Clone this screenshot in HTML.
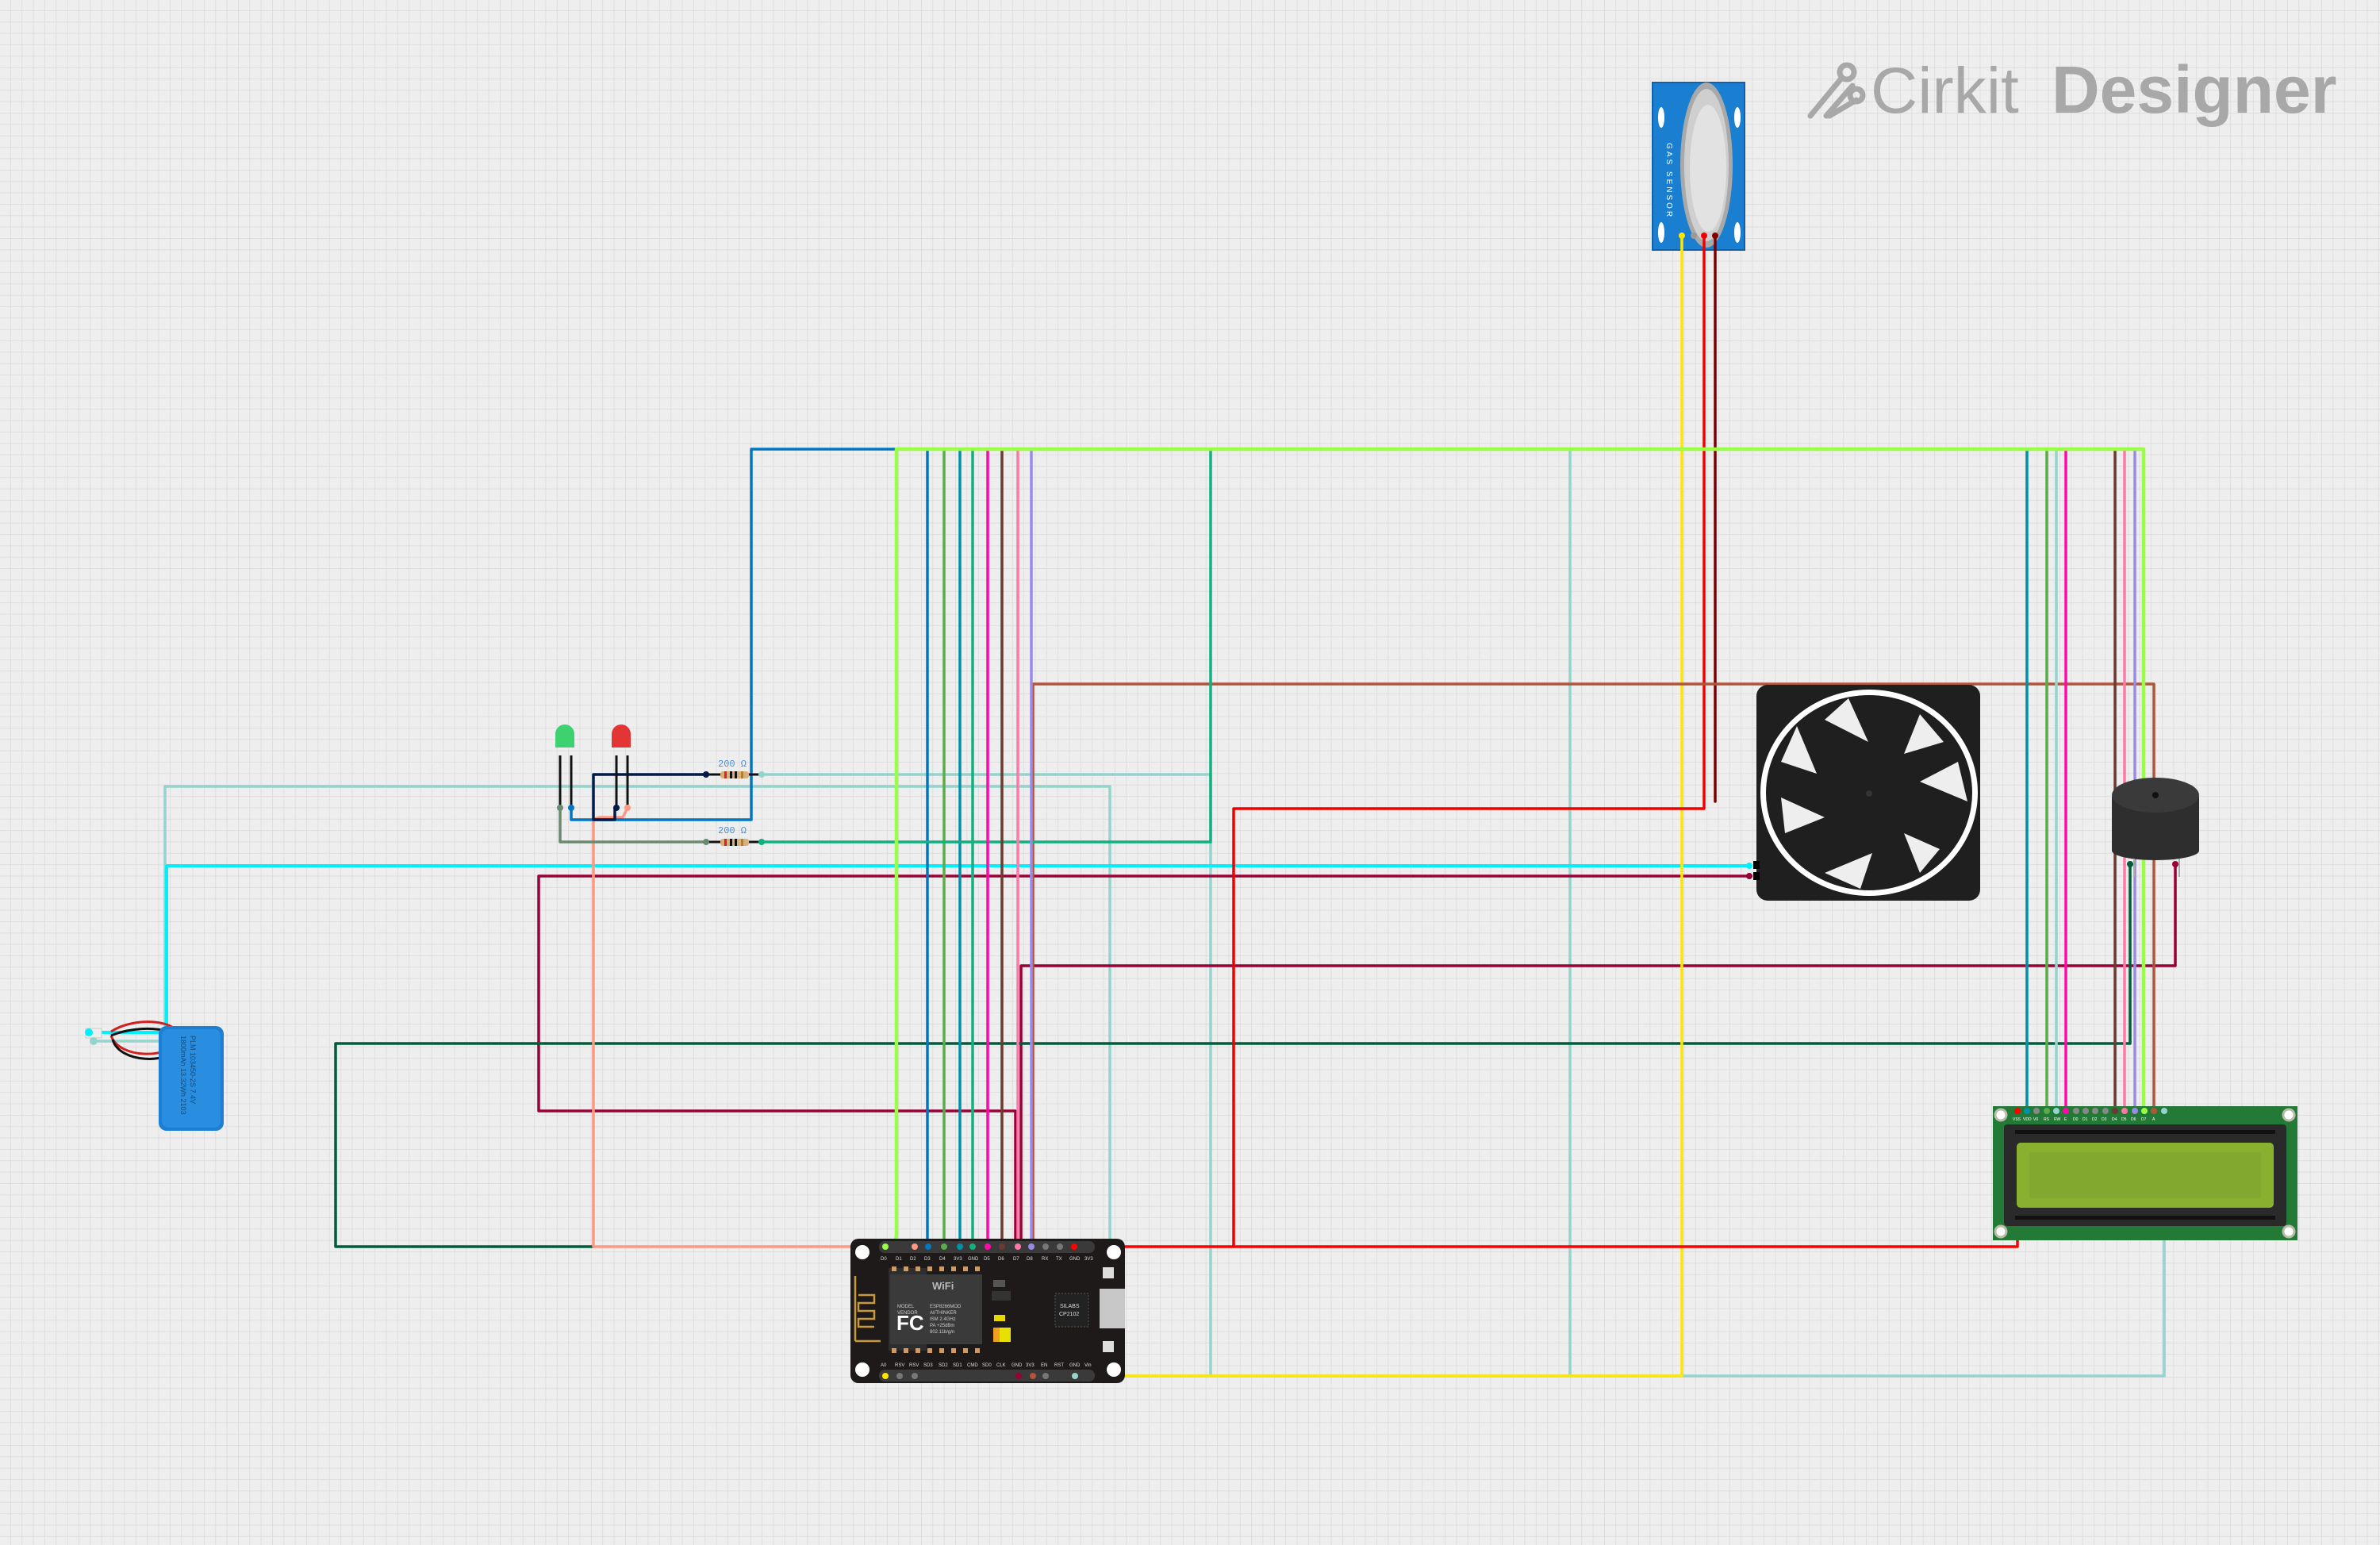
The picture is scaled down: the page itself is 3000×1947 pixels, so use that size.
<!DOCTYPE html>
<html><head><meta charset="utf-8"><style>
html,body{margin:0;padding:0;background:#eeeeee;}
svg{display:block;}
</style></head><body>
<svg width="3000" height="1947" viewBox="0 0 3000 1947" xmlns="http://www.w3.org/2000/svg" font-family="Liberation Sans, sans-serif">
<defs>
<pattern id="g" x="13" y="13" width="14.35" height="14.35" patternUnits="userSpaceOnUse">
<path d="M0 0V14.35M0 0H14.35" stroke="#dadada" stroke-width="1.6" fill="none"/>
</pattern>
</defs>
<rect width="3000" height="1947" fill="#eeeeee"/>
<rect width="3000" height="1947" fill="url(#g)"/>

<!-- Logo -->
<g fill="none" stroke="#a8a8a8" stroke-width="7" stroke-linecap="round">
<path d="M2282 146 L2320 100"/><circle cx="2328" cy="91" r="9"/>
<path d="M2302 146 L2335 108"/><path d="M2306 146 L2340 126"/>
<circle cx="2340" cy="120" r="8"/>
</g>
<text x="2358" y="142" font-size="82" fill="#a8a8a8">Cirkit</text>
<text x="2586" y="142" font-size="84" font-weight="bold" fill="#a8a8a8">Designer</text>

<!-- Gas sensor -->
<rect x="2083" y="104" width="116" height="211" fill="#1a7fd0"/>
<rect x="2083" y="104" width="116" height="211" fill="none" stroke="#0e62ad" stroke-width="2"/>
<ellipse cx="2094" cy="148" rx="4" ry="13" fill="#fff"/><ellipse cx="2190" cy="148" rx="4" ry="13" fill="#fff"/>
<ellipse cx="2094" cy="293" rx="4" ry="13" fill="#fff"/><ellipse cx="2190" cy="293" rx="4" ry="13" fill="#fff"/>
<ellipse cx="2151" cy="208" rx="33" ry="104" fill="#a9a9a9"/>
<ellipse cx="2151" cy="208" rx="28" ry="96" fill="#cfcfcf"/>
<ellipse cx="2153" cy="212" rx="23" ry="80" fill="#e2e2e2"/>
<text transform="translate(2101,180) rotate(90)" font-size="10" fill="#fff" letter-spacing="3">GAS SENSOR</text>
<circle cx="2120" cy="297" r="4" fill="#ffe600"/><circle cx="2135" cy="297" r="4" fill="#999"/>
<circle cx="2148" cy="297" r="4" fill="#f00"/><circle cx="2162" cy="297" r="4" fill="#800"/>

<!-- Wires -->
<g fill="none" stroke-width="3.5" stroke-linejoin="round" stroke-linecap="round">
<path d="M1355 1734 H2728 V1400" stroke="#94d4cc"/>
<path d="M1979 566 V1734" stroke="#94d4cc"/>
<path d="M960 976 H1526 V1734" stroke="#94d4cc"/>
<path d="M118 1312 H208 V991 H1399 V1734" stroke="#94d4cc"/>
<path d="M112 1301 H210 V1091 H2205" stroke="#00f0ff" stroke-width="4"/>
<path d="M2205 1104 H679 V1400 H1280 V1734" stroke="#990038"/>
<path d="M2742 1089 V1217 H1287 V1734" stroke="#990038"/>
<path d="M2685 1089 V1315 H423 V1571 H748" stroke="#005c3a"/>
<path d="M1153 1571 H748 V1035 Q748 1030 760 1030 L785 1030 L791 1018" stroke="#ff9880"/>
<path d="M2120 297 V1734 H1116" stroke="#ffe600"/>
<path d="M1354 1571 H2543 V1400" stroke="#ff0000"/>
<path d="M2148 297 V1019 H1555 V1571" stroke="#ee0000"/>
<path d="M2162 297 V1010" stroke="#7a0000"/>
<path d="M1302 1734 V862 H2715 V1400" stroke="#b0553a"/>
<path d="M720 1018 V1033 H947 V566 H1169 V1571" stroke="#0077c0"/>
<path d="M1190 1571 V566 H2580 V1400" stroke="#5aac4a"/>
<path d="M1210 1571 V566 H2555 V1400" stroke="#0090a8"/>
<path d="M1226 1571 V566 H1526 V1061 H960" stroke="#10b080"/>
<path d="M1245 1571 V566 H2604 V1400" stroke="#ff0aa8"/>
<path d="M1263 1571 V566 H2666 V1400" stroke="#6b3a30"/>
<path d="M1283 1571 V566 H2678 V1400" stroke="#ff78a8"/>
<path d="M1300 1571 V566 H2691 V1400" stroke="#9a8ae8"/>
<path d="M2592 566 V1400" stroke="#94d4cc"/>
<path d="M1116 1571 Q1130 1571 1130 1555 V566 H2702 V1400" stroke="#99ff44" stroke-width="4.5"/>
<path d="M890 976 H748 V1033 H775 V1018" stroke="#001a4a"/>
<path d="M706 1018 V1061 H890" stroke="#6a8a70"/>
</g>

<!-- Resistors -->
<g>
<line x1="890" y1="976" x2="960" y2="976" stroke="#111" stroke-width="3"/>
<rect x="908" y="972" width="36" height="9" rx="3" fill="#d8b080"/>
<rect x="913" y="972" width="3" height="9" fill="#e02020"/><rect x="920" y="972" width="3" height="9" fill="#111"/><rect x="926" y="972" width="3" height="9" fill="#111"/><rect x="934" y="972" width="3" height="9" fill="#b08030"/>
<line x1="890" y1="1061" x2="960" y2="1061" stroke="#111" stroke-width="3"/>
<rect x="908" y="1057" width="36" height="9" rx="3" fill="#d8b080"/>
<rect x="913" y="1057" width="3" height="9" fill="#e02020"/><rect x="920" y="1057" width="3" height="9" fill="#111"/><rect x="926" y="1057" width="3" height="9" fill="#111"/><rect x="934" y="1057" width="3" height="9" fill="#b08030"/>
<text x="905" y="966" font-size="12" fill="#4a90d9" font-family="Liberation Mono, monospace">200 Ω</text>
<text x="905" y="1050" font-size="12" fill="#4a90d9" font-family="Liberation Mono, monospace">200 Ω</text>
<circle cx="890" cy="976" r="4" fill="#001a4a"/><circle cx="960" cy="976" r="4" fill="#94d4cc"/>
<circle cx="890" cy="1061" r="4" fill="#6a8a70"/><circle cx="960" cy="1061" r="4" fill="#10b080"/>
</g>

<!-- LEDs -->
<g>
<path d="M706 952 V1018 M720 952 L720 965 L720 1018" stroke="#111" stroke-width="3"/>
<path d="M700 942 V925 a12 12 0 0 1 24 0 V942 Z" fill="#3ed170"/>
<path d="M777 952 V1018 M791 952 V1018" stroke="#111" stroke-width="3"/>
<path d="M771 942 V925 a12 12 0 0 1 24 0 V942 Z" fill="#e43535"/>
<circle cx="706" cy="1018" r="4" fill="#6a8a70"/><circle cx="720" cy="1018" r="4" fill="#0077c0"/>
<circle cx="777" cy="1018" r="4" fill="#001a4a"/><circle cx="791" cy="1018" r="4" fill="#ff9880"/>
</g>

<!-- Battery -->
<g>
<path d="M140 1300 C170 1280 230 1285 225 1310 C215 1335 150 1335 140 1305" fill="none" stroke="#d02020" stroke-width="3"/>
<path d="M140 1305 C175 1290 235 1295 226 1318 C215 1342 150 1340 142 1310" fill="none" stroke="#111" stroke-width="3"/>
<rect x="108" y="1296" width="20" height="12" fill="#eee" stroke="#ccc"/>
<rect x="200" y="1293" width="82" height="132" rx="10" fill="#1d7fd4"/>
<rect x="204" y="1297" width="74" height="124" rx="8" fill="#2a8ee0"/>
<text transform="translate(240,1305) rotate(90)" font-size="9" fill="#124b7a">PLM 103450-2S 7.4V</text>
<text transform="translate(228,1305) rotate(90)" font-size="9" fill="#124b7a">1800mAh 13.32Wh 2103</text>
<circle cx="112" cy="1301" r="5" fill="#00f0ff"/><circle cx="118" cy="1312" r="5" fill="#94d4cc"/>
</g>

<!-- Fan -->
<g>
<rect x="2214" y="863" width="282" height="272" rx="14" fill="#1f1f1f"/>
<ellipse cx="2356" cy="999" rx="137" ry="130" fill="#ffffff"/>
<ellipse cx="2356" cy="999" rx="130" ry="123" fill="#1f1f1f"/>
<g fill="#eeeeee">
<path d="M2300 907 L2355 935 L2330 880 Z"/>
<path d="M2420 900 L2400 950 L2450 935 Z"/>
<path d="M2468 960 L2420 985 L2480 1010 Z"/>
<path d="M2445 1070 L2400 1050 L2420 1100 Z"/>
<path d="M2345 1120 L2360 1075 L2300 1100 Z"/>
<path d="M2250 1050 L2300 1030 L2245 1005 Z"/>
<path d="M2245 960 L2290 975 L2265 915 Z"/>
</g>
<circle cx="2356" cy="999" r="45" fill="#1f1f1f"/>
<circle cx="2356" cy="1000" r="4" fill="#333"/>
<rect x="2210" y="1085" width="8" height="10" fill="#000"/><rect x="2210" y="1099" width="8" height="10" fill="#000"/>
<circle cx="2205" cy="1091" r="4" fill="#00f0ff"/><circle cx="2205" cy="1104" r="4" fill="#990038"/>
</g>

<!-- Buzzer -->
<g>
<rect x="2662" y="1004" width="110" height="68" fill="#2e2e2e"/>
<ellipse cx="2717" cy="1072" rx="55" ry="12" fill="#2e2e2e"/>
<ellipse cx="2717" cy="1002" rx="55" ry="22" fill="#3a3a3a"/>
<circle cx="2717" cy="1002" r="4" fill="#111"/>
<line x1="2690" y1="1082" x2="2690" y2="1105" stroke="#aaa" stroke-width="2"/>
<line x1="2747" y1="1082" x2="2747" y2="1105" stroke="#aaa" stroke-width="2"/>
<circle cx="2685" cy="1089" r="4" fill="#005c3a"/><circle cx="2742" cy="1089" r="4" fill="#990038"/>
</g>

<!-- LCD -->
<g>
<rect x="2512" y="1394" width="384" height="169" fill="#237a36"/>
<circle cx="2522" cy="1405" r="7" fill="#fff" stroke="#bba" stroke-width="3"/><circle cx="2885" cy="1405" r="7" fill="#fff" stroke="#bba" stroke-width="3"/>
<circle cx="2522" cy="1552" r="7" fill="#fff" stroke="#bba" stroke-width="3"/><circle cx="2885" cy="1552" r="7" fill="#fff" stroke="#bba" stroke-width="3"/>
<rect x="2526" y="1417" width="356" height="128" rx="4" fill="#2a2a2a"/>
<rect x="2540" y="1424" width="328" height="5" fill="#111"/><rect x="2540" y="1532" width="328" height="5" fill="#111"/>
<rect x="2542" y="1440" width="324" height="82" rx="5" fill="#8ab030"/>
<rect x="2558" y="1452" width="292" height="58" fill="#82a830"/>
<g font-size="5" fill="#fff">
<text x="2537" y="1412">VSS</text><text x="2550" y="1412">VDD</text><text x="2563" y="1412">V0</text><text x="2576" y="1412">RS</text><text x="2589" y="1412">RW</text><text x="2602" y="1412">E</text><text x="2613" y="1412">D0</text><text x="2625" y="1412">D1</text><text x="2637" y="1412">D2</text><text x="2649" y="1412">D3</text><text x="2662" y="1412">D4</text><text x="2674" y="1412">D5</text><text x="2686" y="1412">D6</text><text x="2699" y="1412">D7</text><text x="2713" y="1412">A</text>
</g>
<g fill="#888"><circle cx="2567" cy="1400" r="4"/><circle cx="2617" cy="1400" r="4"/><circle cx="2629" cy="1400" r="4"/><circle cx="2641" cy="1400" r="4"/><circle cx="2654" cy="1400" r="4"/></g>
<circle cx="2543" cy="1400" r="4" fill="#f00"/><circle cx="2555" cy="1400" r="4" fill="#0090a8"/>
<circle cx="2580" cy="1400" r="4" fill="#5aac4a"/><circle cx="2592" cy="1400" r="4" fill="#94d4cc"/>
<circle cx="2604" cy="1400" r="4" fill="#ff0aa8"/><circle cx="2666" cy="1400" r="4" fill="#6b3a30"/>
<circle cx="2678" cy="1400" r="4" fill="#ff78a8"/><circle cx="2691" cy="1400" r="4" fill="#9a8ae8"/>
<circle cx="2703" cy="1400" r="4" fill="#99ff44"/><circle cx="2715" cy="1400" r="4" fill="#b0553a"/>
<circle cx="2728" cy="1400" r="4" fill="#94d4cc"/>
</g>

<!-- ESP8266 board -->
<g>
<rect x="1072" y="1561" width="346" height="182" rx="10" fill="#1e1a1a"/>
<circle cx="1087" cy="1578" r="9" fill="#fff"/><circle cx="1404" cy="1578" r="9" fill="#fff"/>
<circle cx="1087" cy="1726" r="9" fill="#fff"/><circle cx="1404" cy="1726" r="9" fill="#fff"/>
<rect x="1108" y="1564" width="272" height="15" rx="7" fill="#3a3a3a"/>
<rect x="1108" y="1726" width="272" height="15" rx="7" fill="#3a3a3a"/>
<rect x="1120" y="1598" width="48" height="104" fill="#2e2e2e"/>
<g fill="#d09a60"><rect x="1124" y="1596" width="6" height="6"/><rect x="1139" y="1596" width="6" height="6"/><rect x="1154" y="1596" width="6" height="6"/><rect x="1169" y="1596" width="6" height="6"/><rect x="1184" y="1596" width="6" height="6"/><rect x="1199" y="1596" width="6" height="6"/><rect x="1214" y="1596" width="6" height="6"/><rect x="1229" y="1596" width="6" height="6"/>
<rect x="1124" y="1699" width="6" height="6"/><rect x="1139" y="1699" width="6" height="6"/><rect x="1154" y="1699" width="6" height="6"/><rect x="1169" y="1699" width="6" height="6"/><rect x="1184" y="1699" width="6" height="6"/><rect x="1199" y="1699" width="6" height="6"/><rect x="1214" y="1699" width="6" height="6"/><rect x="1229" y="1699" width="6" height="6"/></g>
<rect x="1122" y="1606" width="116" height="88" fill="#3a3a3a"/>
<path d="M1078 1608 V1690 M1078 1690 H1110 M1082 1632 H1102 V1642 H1082 V1652 H1102 V1662 H1082 V1672 H1102" stroke="#c89a3a" stroke-width="2.5" fill="none"/>
<text x="1175" y="1625" font-size="13" font-weight="bold" fill="#bbb">WiFi</text>
<text x="1130" y="1676" font-size="26" font-weight="bold" fill="#fff">FC</text>
<g font-size="6" fill="#ccc"><text x="1131" y="1648">MODEL</text><text x="1131" y="1656">VENDOR</text><text x="1172" y="1648">ESP8266MOD</text><text x="1172" y="1656">AI/THINKER</text><text x="1172" y="1664">ISM 2.4GHz</text><text x="1172" y="1672">PA +25dBm</text><text x="1172" y="1680">802.11b/g/n</text></g>
<rect x="1252" y="1613" width="15" height="9" fill="#555"/>
<rect x="1250" y="1627" width="24" height="12" fill="#333"/>
<rect x="1253" y="1657" width="14" height="8" fill="#e8d800"/>
<rect x="1252" y="1673" width="22" height="18" fill="#e8e000"/>
<rect x="1252" y="1673" width="8" height="18" fill="#f0a020"/>
<rect x="1330" y="1630" width="42" height="42" fill="#222" stroke="#555" stroke-dasharray="2 2"/>
<text x="1336" y="1648" font-size="7" fill="#ddd">SILABS</text><text x="1335" y="1658" font-size="7" fill="#ddd">CP2102</text>
<rect x="1386" y="1624" width="32" height="50" fill="#c8c8c8"/>
<rect x="1390" y="1597" width="14" height="14" fill="#ddd"/><rect x="1390" y="1690" width="14" height="14" fill="#ddd"/>
<g font-size="6" fill="#ddd">
<text x="1110" y="1588">D0</text><text x="1129" y="1588">D1</text><text x="1147" y="1588">D2</text><text x="1165" y="1588">D3</text><text x="1184" y="1588">D4</text><text x="1202" y="1588">3V3</text><text x="1220" y="1588">GND</text><text x="1240" y="1588">D5</text><text x="1258" y="1588">D6</text><text x="1277" y="1588">D7</text><text x="1294" y="1588">D8</text><text x="1313" y="1588">RX</text><text x="1331" y="1588">TX</text><text x="1348" y="1588">GND</text><text x="1367" y="1588">3V3</text>
<text x="1110" y="1722">A0</text><text x="1128" y="1722">RSV</text><text x="1146" y="1722">RSV</text><text x="1164" y="1722">SD3</text><text x="1183" y="1722">SD2</text><text x="1201" y="1722">SD1</text><text x="1219" y="1722">CMD</text><text x="1238" y="1722">SD0</text><text x="1256" y="1722">CLK</text><text x="1275" y="1722">GND</text><text x="1293" y="1722">3V3</text><text x="1312" y="1722">EN</text><text x="1329" y="1722">RST</text><text x="1348" y="1722">GND</text><text x="1367" y="1722">Vin</text>
</g>
<g fill="#777"><circle cx="1318" cy="1571" r="4"/><circle cx="1336" cy="1571" r="4"/><circle cx="1134" cy="1734" r="4"/><circle cx="1153" cy="1734" r="4"/><circle cx="1318" cy="1734" r="4"/></g>
<circle cx="1116" cy="1571" r="4" fill="#99ff44"/><circle cx="1153" cy="1571" r="4" fill="#ff9880"/>
<circle cx="1170" cy="1571" r="4" fill="#0077c0"/><circle cx="1190" cy="1571" r="4" fill="#5aac4a"/>
<circle cx="1210" cy="1571" r="4" fill="#0090a8"/><circle cx="1226" cy="1571" r="4" fill="#10b080"/>
<circle cx="1245" cy="1571" r="4" fill="#ff0aa8"/><circle cx="1263" cy="1571" r="4" fill="#6b3a30"/>
<circle cx="1283" cy="1571" r="4" fill="#ff78a8"/><circle cx="1300" cy="1571" r="4" fill="#9a8ae8"/>
<circle cx="1354" cy="1571" r="4" fill="#ff0000"/>
<circle cx="1116" cy="1734" r="4" fill="#ffe600"/><circle cx="1284" cy="1734" r="4" fill="#990038"/>
<circle cx="1302" cy="1734" r="4" fill="#b0553a"/><circle cx="1355" cy="1734" r="4" fill="#94d4cc"/>
</g>
</svg>
</body></html>
